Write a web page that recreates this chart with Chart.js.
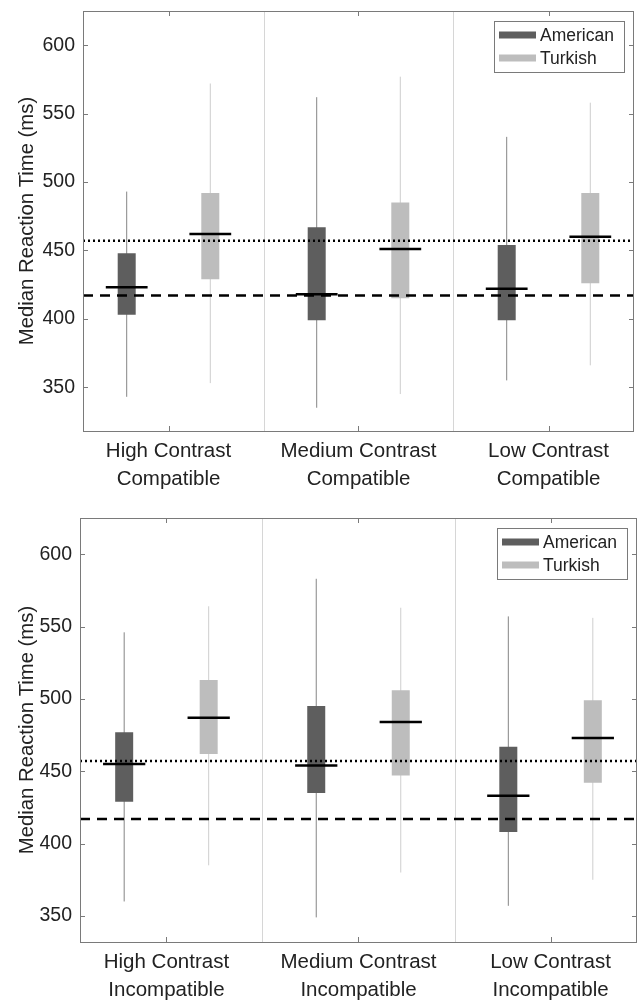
<!DOCTYPE html>
<html lang="en">
<head>
<meta charset="UTF-8">
<title>Median Reaction Time</title>
<script src="https://cdn.jsdelivr.net/npm/chart.js"></script>
<style>
  body { margin: 0; background: #fff; }
  .panel { position: relative; width: 638px; height: 500px; }
</style>
</head>
<body>
<div class="panel"><canvas id="compatible"></canvas></div>
<div class="panel"><canvas id="incompatible"></canvas></div>

<script>
// ---- data ----
const contrasts = ['High Contrast', 'Medium Contrast', 'Low Contrast'];
const groups = ['American', 'Turkish'];
const yTicks = [350, 400, 450, 500, 550, 600];

// Compatible condition
const compAmLow  = [343, 335, 355];
const compAmQ1   = [403, 399, 399];
const compAmMed  = [423, 418, 422];
const compAmQ3   = [448, 467, 454];
const compAmHigh = [493, 562, 533];

const compTkLow  = [353, 345, 366];
const compTkQ1   = [429, 415, 426];
const compTkMed  = [462, 451, 460];
const compTkQ3   = [492, 485, 492];
const compTkHigh = [572, 577, 558];

// Incompatible condition
const incAmLow  = [360, 349, 357];
const incAmQ1   = [429, 435, 408];
const incAmMed  = [455, 454, 433];
const incAmQ3   = [477, 495, 467];
const incAmHigh = [546, 583, 557];

const incTkLow  = [385, 380, 375];
const incTkQ1   = [462, 447, 442];
const incTkMed  = [487, 484, 473];
const incTkQ3   = [513, 506, 499];
const incTkHigh = [564, 563, 556];

// reference lines
const dottedRef = 457;
const dashedRef = 417;

// ---- styling ----
const boxColors = ['#5e5e5e', '#bdbdbd'];
const whiskerColors = ['#858585', '#cecece'];
const groupOffset = [-0.22, 0.22];
const medianHalf = 0.11;
const textColor = '#222';
const fontFamily = '"Liberation Sans", Arial, Helvetica, sans-serif';

// frame, dividers and inward ticks (MATLAB look)
const framePlugin = {
    id: 'frame',
    beforeDatasetsDraw(chart) {
        const {ctx, chartArea: a, scales: {x, y}} = chart;
        ctx.save();
        ctx.lineWidth = 1;
        ctx.strokeStyle = '#d6d6d6';
        [1.5, 2.5].forEach(v => {
            const px = Math.round(x.getPixelForValue(v)) + 0.5;
            ctx.beginPath(); ctx.moveTo(px, a.top); ctx.lineTo(px, a.bottom); ctx.stroke();
        });
        ctx.restore();
    },
    afterDatasetsDraw(chart) {
        const {ctx, chartArea: a, scales: {x, y}} = chart;
        ctx.save();
        ctx.lineWidth = 1;
        ctx.strokeStyle = '#7a7a7a';
        ctx.strokeRect(Math.round(a.left) + 0.5, Math.round(a.top) + 0.5,
                       Math.round(a.right - a.left) - 1, Math.round(a.bottom - a.top));
        const t = 5;
        [1, 2, 3].forEach(v => {
            const px = Math.round(x.getPixelForValue(v)) + 0.5;
            ctx.beginPath();
            ctx.moveTo(px, a.top); ctx.lineTo(px, a.top + t);
            ctx.moveTo(px, a.bottom); ctx.lineTo(px, a.bottom - t);
            ctx.stroke();
        });
        yTicks.forEach(v => {
            const py = Math.round(y.getPixelForValue(v)) + 0.5;
            ctx.beginPath();
            ctx.moveTo(a.left, py); ctx.lineTo(a.left + t, py);
            ctx.moveTo(a.right, py); ctx.lineTo(a.right - t, py);
            ctx.stroke();
        });
        ctx.restore();
    },
    afterDraw(chart) {
        // legend box inside the top-right corner
        const {ctx, chartArea: a} = chart;
        const w = 130, h = 51;
        const lx = a.right - 10 - w, ly = a.top + 10;
        ctx.save();
        ctx.fillStyle = '#fff';
        ctx.fillRect(lx, ly, w, h);
        ctx.strokeStyle = '#7a7a7a';
        ctx.lineWidth = 1;
        ctx.strokeRect(Math.round(lx) + 0.5, Math.round(ly) + 0.5, w, h);
        ctx.font = '17.5px ' + fontFamily;
        ctx.textBaseline = 'middle';
        groups.forEach((g, i) => {
            const cy = ly + 14 + i * 23;
            ctx.fillStyle = boxColors[i];
            ctx.fillRect(lx + 5, cy - 3.5, 37, 7);
            ctx.fillStyle = textColor;
            ctx.fillText(g, lx + 46, cy + 1);
        });
        ctx.restore();
    }
};

function buildDatasets(series) {
    const sets = [];
    series.forEach((s, gi) => {
        contrasts.forEach((c, ci) => {
            const cx = ci + 1 + groupOffset[gi];
            sets.push({
                data: [{x: cx, y: s.low[ci]}, {x: cx, y: s.high[ci]}],
                borderColor: whiskerColors[gi], borderWidth: 1, order: 4
            });
            sets.push({
                data: [{x: cx, y: s.q1[ci]}, {x: cx, y: s.q3[ci]}],
                borderColor: boxColors[gi], borderWidth: 18, borderCapStyle: 'butt', order: 3
            });
            sets.push({
                data: [{x: cx - medianHalf, y: s.med[ci]}, {x: cx + medianHalf, y: s.med[ci]}],
                borderColor: '#000', borderWidth: 2.5, borderCapStyle: 'butt', order: 1
            });
        });
    });
    sets.push({
        data: [{x: 0.55, y: dottedRef}, {x: 3.45, y: dottedRef}],
        borderColor: '#000', borderWidth: 2.5, borderDash: [2, 3], order: 2
    });
    sets.push({
        data: [{x: 0.55, y: dashedRef}, {x: 3.45, y: dashedRef}],
        borderColor: '#000', borderWidth: 2.5, borderDash: [10, 7], order: 2
    });
    sets.forEach(d => { d.pointRadius = 0; d.fill = false; });
    return sets;
}

function makeChart(id, condition, series, yMin, pad, yWidth, xHeight) {
    new Chart(document.getElementById(id).getContext('2d'), {
        type: 'line',
        data: { datasets: buildDatasets(series) },
        options: {
            responsive: true,
            maintainAspectRatio: false,
            animation: false,
            events: [],
            layout: { padding: pad },
            plugins: { legend: { display: false }, tooltip: { enabled: false } },
            scales: {
                x: {
                    type: 'linear', min: 0.55, max: 3.45,
                    afterBuildTicks: sc => { sc.ticks = [1, 2, 3].map(v => ({value: v})); },
                    afterFit: sc => { sc.height = xHeight; sc.paddingLeft = 0; sc.paddingRight = 0; },
                    grid: { display: false, drawTicks: false },
                    border: { display: false },
                    ticks: {
                        padding: 6, color: textColor, maxRotation: 0, autoSkip: false,
                        font: { family: fontFamily, size: 20.5, lineHeight: 1.37 },
                        callback: v => [contrasts[v - 1], condition]
                    }
                },
                y: {
                    min: yMin, max: 625,
                    afterBuildTicks: sc => { sc.ticks = yTicks.map(v => ({value: v})); },
                    afterFit: sc => { sc.width = yWidth; sc.paddingTop = 0; sc.paddingBottom = 0; },
                    grid: { display: false, drawTicks: false },
                    border: { display: false },
                    ticks: {
                        padding: 8, color: textColor,
                        font: { family: fontFamily, size: 19.5 }
                    },
                    title: {
                        display: true, text: 'Median Reaction Time (ms)', color: textColor,
                        font: { family: fontFamily, size: 20.3 },
                        padding: { top: 15, bottom: 0 }
                    }
                }
            }
        },
        plugins: [framePlugin]
    });
}

makeChart('compatible', 'Compatible', [
    { low: compAmLow, q1: compAmQ1, med: compAmMed, q3: compAmQ3, high: compAmHigh },
    { low: compTkLow, q1: compTkQ1, med: compTkMed, q3: compTkQ3, high: compTkHigh }
], 318, { top: 11, right: 4, left: 0, bottom: 0 }, 83, 69);

makeChart('incompatible', 'Incompatible', [
    { low: incAmLow, q1: incAmQ1, med: incAmMed, q3: incAmQ3, high: incAmHigh },
    { low: incTkLow, q1: incTkQ1, med: incTkMed, q3: incTkQ3, high: incTkHigh }
], 332, { top: 18, right: 1, left: 0, bottom: 0 }, 80, 58);
</script>
</body>
</html>
